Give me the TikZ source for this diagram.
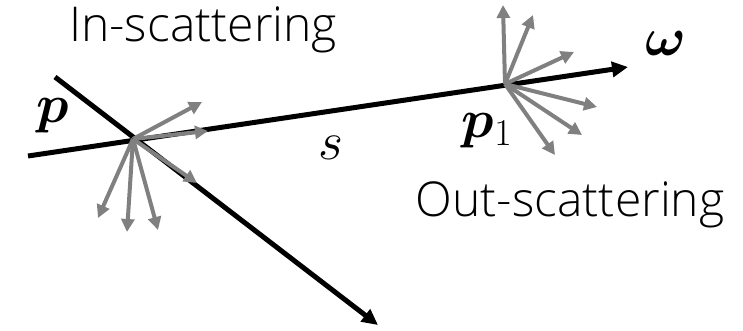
\RequirePackage{fix-cm}
\documentclass[tikz,border=0pt]{standalone}
\usepackage{amsmath,bm}
\usepackage{fontspec}
\setsansfont{Open Sans Light}
\usetikzlibrary{arrows.meta}
\tikzset{
  ray/.style={line width=5pt, -{Triangle[length=16pt,width=15pt]}},
  scat/.style={line width=4pt, draw={rgb,255:red,128;green,128;blue,128}, -{Triangle[length=13pt,width=13pt]}},
  lab/.style={font=\sffamily\fontsize{48}{54}\selectfont, inner sep=0pt},
  mlab/.style={font=\fontsize{54}{60}\selectfont, inner sep=0pt}
}
\begin{document}
\begin{tikzpicture}[x=1pt,y=-1pt]
\useasboundingbox (0,0) rectangle (743,330);
\coordinate (s0) at (28,156);
\coordinate (A) at (133,139);
\coordinate (B) at (505,84);
\coordinate (w) at (628,67);
\coordinate (q0) at (55,77);
\coordinate (q1) at (378,325);
\draw[ray] (s0) -- (w);
\draw[ray] (q0) -- (q1);
\foreach \t [count=\i] in {(202,102),(208,131),(197,183),(98,218),(127,232),(158,230)}
  \draw[scat] (A) -- \t coordinate (a\i);
\foreach \t [count=\i] in {(503,5),(533,15),(574,52),(597,107),(582,135),(555,155)}
  \draw[scat] (B) -- \t coordinate (b\i);
\node[lab] (in) at (203,30) {In-scattering};
\node[lab] (out) at (570,205) {Out-scattering};
\node[mlab] (p) at (53,116) {$\bm{p}$};
\node[mlab] (p1) at (487,131) {$\bm{p}_1$};
\node[mlab] (s) at (331,148) {$s$};
\node[mlab] (om) at (666,43) {$\bm{\omega}$};
\end{tikzpicture}
\end{document}
